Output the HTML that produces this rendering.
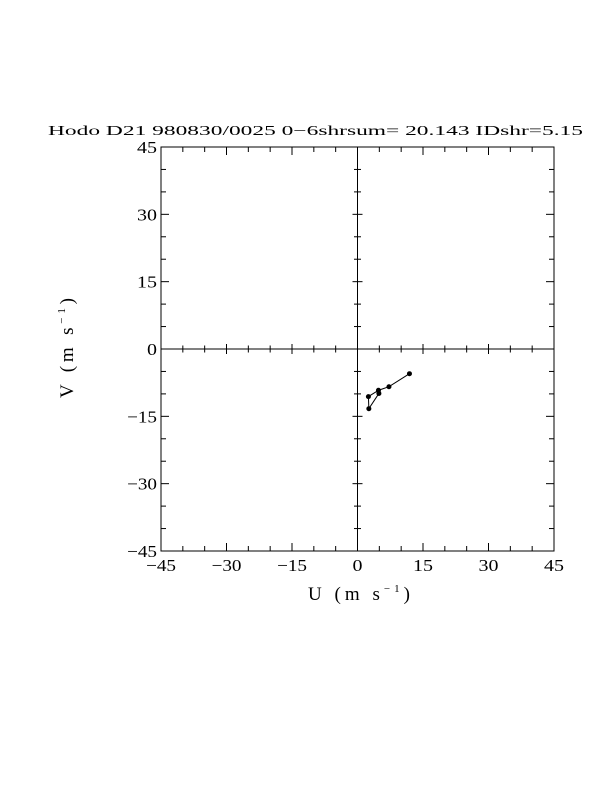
<!DOCTYPE html>
<html><head><meta charset="utf-8"><style>body{margin:0;background:#fff}svg{display:block}text{font-family:"Liberation Serif",serif;fill:#000}</style></head>
<body>
<svg id="c" width="612" height="792">
<text x="48" y="135" font-size="14" textLength="535" lengthAdjust="spacingAndGlyphs">Hodo D21 980830/0025 0−6shrsum= 20.143 IDshr=5.15</text>
<text x="308" y="600" font-size="19" textLength="102" lengthAdjust="spacing">U (m s<tspan font-size="11" dy="-8">−1</tspan><tspan dy="8">)</tspan></text>
<text transform="translate(73,398) rotate(-90)" x="0" y="0" font-size="19" textLength="100" lengthAdjust="spacing">V (m s<tspan font-size="11" dy="-8">−1</tspan><tspan dy="8">)</tspan></text>
</svg>
<script>
const uVals=[4.9,2.6,2.5,4.8,7.2,11.9];
const vVals=[-9.9,-13.3,-10.6,-9.2,-8.4,-5.5];
const tickLabels=[-45,-30,-15,0,15,30,45];
const NS='http://www.w3.org/2000/svg';
const svg=document.getElementById('c');
const L=161,R=554,T=147,B=551;
const xs=u=>L+(u+45)/90*(R-L);
const ys=v=>B-(v+45)/90*(B-T);
function el(t,a,p){const e=document.createElementNS(NS,t);for(const k in a)e.setAttribute(k,a[k]);(p||svg).appendChild(e);return e;}
const frame=el('rect',{x:L,y:T,width:R-L,height:B-T,fill:'none',stroke:'#000','stroke-width':1});


const ax=el('g',{stroke:'#000','stroke-width':1});


el('line',{x1:xs(0),y1:T,x2:xs(0),y2:B},ax);
el('line',{x1:L,y1:ys(0),x2:R,y2:ys(0)},ax);
for(let t=-40;t<=40;t+=5){
  const maj=t%15===0, len=maj?8:5;
  const x=xs(t),y=ys(t);
  el('line',{x1:x,y1:B,x2:x,y2:B-len},ax);
  el('line',{x1:x,y1:T,x2:x,y2:T+len},ax);
  el('line',{x1:L,y1:y,x2:L+len,y2:y},ax);
  el('line',{x1:R,y1:y,x2:R-len,y2:y},ax);
  if(t!==0){
    el('line',{x1:x,y1:ys(0)-len/2-1,x2:x,y2:ys(0)+len/2+1},ax);
    el('line',{x1:xs(0)-len/2-1,y1:y,x2:xs(0)+len/2+1,y2:y},ax);
  }
}
tickLabels.forEach(t=>{
  const s=t<0?'\u2212'+(-t):''+t;
  const w=s.length*10;
  const a=el('text',{x:xs(t),y:B+20,'font-size':17,'text-anchor':'middle',textLength:w,lengthAdjust:'spacingAndGlyphs'});a.textContent=s;
  
  
  const b=el('text',{x:L-4-w,y:ys(t)+6,'font-size':17,textLength:w,lengthAdjust:'spacingAndGlyphs'});b.textContent=s;
  
  
});
const pts=uVals.map((u,i)=>xs(u)+','+ys(vVals[i])).join(' ');
const line=el('polyline',{points:pts,fill:'none',stroke:'#000','stroke-width':1});


uVals.forEach((u,i)=>{
  const c=el('circle',{cx:xs(u),cy:ys(vVals[i]),r:2.5,fill:'#000'});
  
  
});
</script>
</body></html>
